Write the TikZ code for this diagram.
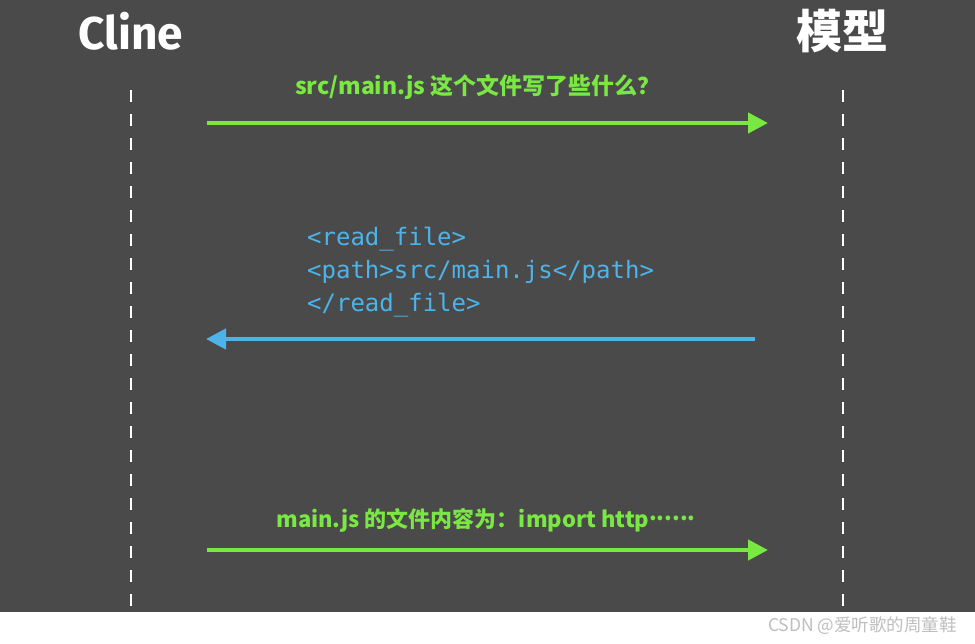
\documentclass[tikz,border=0pt]{standalone}
\usepackage{fontspec}
\usetikzlibrary{arrows.meta}
\newfontfamily\cjk{Noto Sans CJK SC}
\newfontfamily\firasans{Fira Sans}
\newfontfamily\codefont{DejaVu Sans Mono}
\definecolor{bgc}{RGB}{74,74,74}
\definecolor{grn}{RGB}{122,232,66}
\definecolor{blu}{RGB}{76,180,234}
\definecolor{wm}{RGB}{190,190,190}
\tikzset{
  lifeline/.style={draw=white, line width=2pt, dash pattern=on 12pt off 12pt},
  msggreen/.style={draw=grn, line width=4.5pt, -{Triangle[length=20pt,width=20pt]}},
  msgblue/.style={draw=blu, line width=4.5pt, -{Triangle[length=20pt,width=20pt]}},
  actor/.style={text=white, inner sep=0pt, anchor=center},
  greenlbl/.style={text=grn, inner sep=0pt, font=\cjk\bfseries\fontsize{22.5}{26}\selectfont},
  codelbl/.style={text=blu, inner sep=0pt, anchor=west, font=\codefont\fontsize{24}{28}\selectfont},
}
\begin{document}
\begin{tikzpicture}[x=1pt,y=-1pt]
\fill[white] (0,0) rectangle (975,643);
\fill[bgc] (0,0) rectangle (975,612);
\useasboundingbox (0,0) rectangle (975,643);
% actors
\node[actor, font=\firasans\bfseries\fontsize{46}{50}\selectfont] (cline) at (131,31) {Cline};
\node[actor, font=\cjk\bfseries\fontsize{46}{50}\selectfont] (model) at (842,31) {模型};
% lifelines
\coordinate (ct) at (131,90);
\coordinate (cb) at (131,608);
\coordinate (mt) at (843,90);
\coordinate (mb) at (843,608);
\draw[lifeline] (ct) -- (cb);
\draw[lifeline] (mt) -- (mb);
% message 1
\coordinate (a1s) at (207,123);
\coordinate (a1e) at (768,123);
\draw[msggreen] (a1s) -- (a1e);
\node[greenlbl, font=\cjk\bfseries\fontsize{23}{26}\selectfont] (l1) at (478,87) {src/main.js 这个文件写了些什么？};
% message 2
\node[codelbl] (c1) at (307,239) {<read\_file>};
\node[codelbl] (c2) at (307,272) {<path>src/main.js</path>};
\node[codelbl] (c3) at (307,305) {</read\_file>};
\coordinate (a2s) at (755,339);
\coordinate (a2e) at (206,339);
\draw[msgblue] (a2s) -- (a2e);
% message 3
\node[greenlbl, font=\cjk\bfseries\fontsize{22}{26}\selectfont] (l3) at (486,520) {main.js 的文件内容为：import http\raisebox{0.3em}{......}};
\coordinate (a3s) at (207,550);
\coordinate (a3e) at (768,550);
\draw[msggreen] (a3s) -- (a3e);
% watermark
\node[text=wm, inner sep=0pt, anchor=east, font=\cjk\fontsize{17.5}{20}\selectfont] (wmk) at (957,626) {CSDN @爱听歌的周童鞋};
\end{tikzpicture}
\end{document}
